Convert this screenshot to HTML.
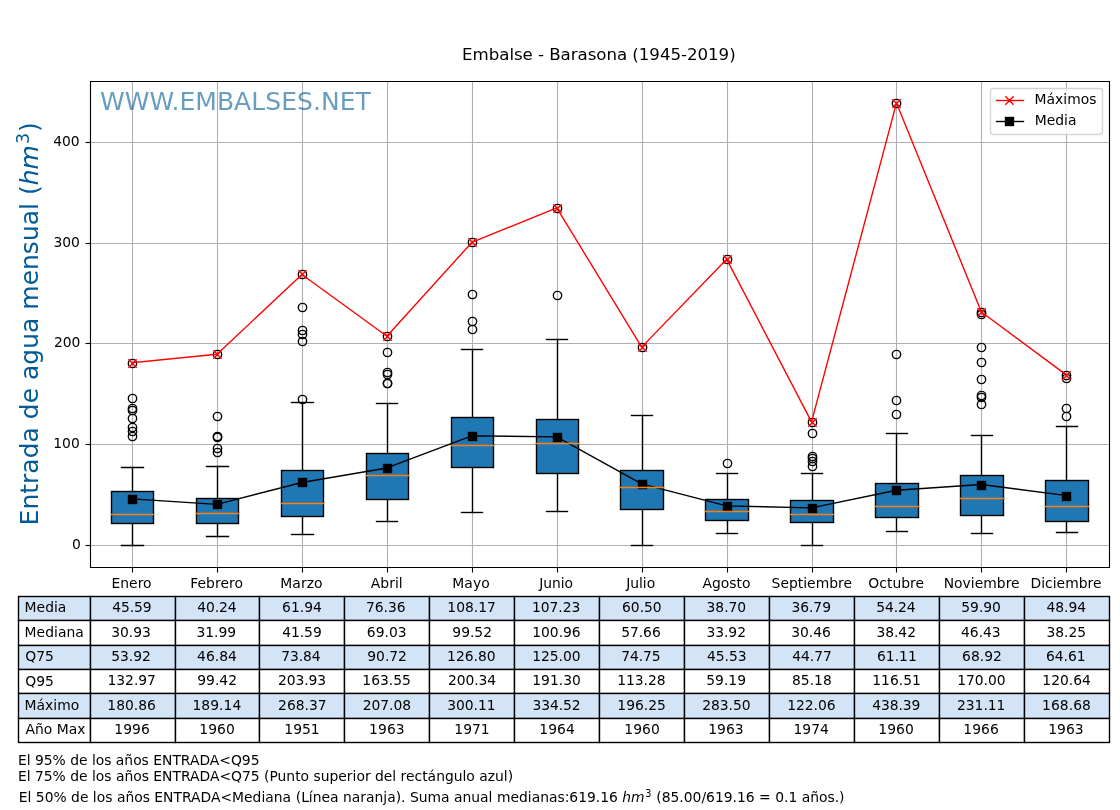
<!DOCTYPE html>
<html lang="es"><head><meta charset="utf-8"><title>Embalse - Barasona (1945-2019)</title>
<style>html,body{margin:0;padding:0;background:#fff}body{width:1120px;height:810px;overflow:hidden}svg text{white-space:pre;text-rendering:auto}</style></head>
<body>
<svg width="1120" height="810" viewBox="0 0 1120 810" style="display:block">
<rect x="0" y="0" width="1120" height="810" fill="#ffffff"/>
<g stroke="#000" stroke-width="1.39" stroke-linejoin="miter">
<rect x="18.5" y="596.5" width="72" height="24" fill="#d4e4f7"/>
<rect x="90.5" y="596.5" width="85" height="24" fill="#d4e4f7"/>
<rect x="175.5" y="596.5" width="84" height="24" fill="#d4e4f7"/>
<rect x="259.5" y="596.5" width="85" height="24" fill="#d4e4f7"/>
<rect x="344.5" y="596.5" width="85" height="24" fill="#d4e4f7"/>
<rect x="429.5" y="596.5" width="85" height="24" fill="#d4e4f7"/>
<rect x="514.5" y="596.5" width="85" height="24" fill="#d4e4f7"/>
<rect x="599.5" y="596.5" width="85" height="24" fill="#d4e4f7"/>
<rect x="684.5" y="596.5" width="85" height="24" fill="#d4e4f7"/>
<rect x="769.5" y="596.5" width="85" height="24" fill="#d4e4f7"/>
<rect x="854.5" y="596.5" width="85" height="24" fill="#d4e4f7"/>
<rect x="939.5" y="596.5" width="85" height="24" fill="#d4e4f7"/>
<rect x="1024.5" y="596.5" width="85" height="24" fill="#d4e4f7"/>
<rect x="18.5" y="620.5" width="72" height="25" fill="#ffffff"/>
<rect x="90.5" y="620.5" width="85" height="25" fill="#ffffff"/>
<rect x="175.5" y="620.5" width="84" height="25" fill="#ffffff"/>
<rect x="259.5" y="620.5" width="85" height="25" fill="#ffffff"/>
<rect x="344.5" y="620.5" width="85" height="25" fill="#ffffff"/>
<rect x="429.5" y="620.5" width="85" height="25" fill="#ffffff"/>
<rect x="514.5" y="620.5" width="85" height="25" fill="#ffffff"/>
<rect x="599.5" y="620.5" width="85" height="25" fill="#ffffff"/>
<rect x="684.5" y="620.5" width="85" height="25" fill="#ffffff"/>
<rect x="769.5" y="620.5" width="85" height="25" fill="#ffffff"/>
<rect x="854.5" y="620.5" width="85" height="25" fill="#ffffff"/>
<rect x="939.5" y="620.5" width="85" height="25" fill="#ffffff"/>
<rect x="1024.5" y="620.5" width="85" height="25" fill="#ffffff"/>
<rect x="18.5" y="645.5" width="72" height="24" fill="#d4e4f7"/>
<rect x="90.5" y="645.5" width="85" height="24" fill="#d4e4f7"/>
<rect x="175.5" y="645.5" width="84" height="24" fill="#d4e4f7"/>
<rect x="259.5" y="645.5" width="85" height="24" fill="#d4e4f7"/>
<rect x="344.5" y="645.5" width="85" height="24" fill="#d4e4f7"/>
<rect x="429.5" y="645.5" width="85" height="24" fill="#d4e4f7"/>
<rect x="514.5" y="645.5" width="85" height="24" fill="#d4e4f7"/>
<rect x="599.5" y="645.5" width="85" height="24" fill="#d4e4f7"/>
<rect x="684.5" y="645.5" width="85" height="24" fill="#d4e4f7"/>
<rect x="769.5" y="645.5" width="85" height="24" fill="#d4e4f7"/>
<rect x="854.5" y="645.5" width="85" height="24" fill="#d4e4f7"/>
<rect x="939.5" y="645.5" width="85" height="24" fill="#d4e4f7"/>
<rect x="1024.5" y="645.5" width="85" height="24" fill="#d4e4f7"/>
<rect x="18.5" y="669.5" width="72" height="24" fill="#ffffff"/>
<rect x="90.5" y="669.5" width="85" height="24" fill="#ffffff"/>
<rect x="175.5" y="669.5" width="84" height="24" fill="#ffffff"/>
<rect x="259.5" y="669.5" width="85" height="24" fill="#ffffff"/>
<rect x="344.5" y="669.5" width="85" height="24" fill="#ffffff"/>
<rect x="429.5" y="669.5" width="85" height="24" fill="#ffffff"/>
<rect x="514.5" y="669.5" width="85" height="24" fill="#ffffff"/>
<rect x="599.5" y="669.5" width="85" height="24" fill="#ffffff"/>
<rect x="684.5" y="669.5" width="85" height="24" fill="#ffffff"/>
<rect x="769.5" y="669.5" width="85" height="24" fill="#ffffff"/>
<rect x="854.5" y="669.5" width="85" height="24" fill="#ffffff"/>
<rect x="939.5" y="669.5" width="85" height="24" fill="#ffffff"/>
<rect x="1024.5" y="669.5" width="85" height="24" fill="#ffffff"/>
<rect x="18.5" y="693.5" width="72" height="25" fill="#d4e4f7"/>
<rect x="90.5" y="693.5" width="85" height="25" fill="#d4e4f7"/>
<rect x="175.5" y="693.5" width="84" height="25" fill="#d4e4f7"/>
<rect x="259.5" y="693.5" width="85" height="25" fill="#d4e4f7"/>
<rect x="344.5" y="693.5" width="85" height="25" fill="#d4e4f7"/>
<rect x="429.5" y="693.5" width="85" height="25" fill="#d4e4f7"/>
<rect x="514.5" y="693.5" width="85" height="25" fill="#d4e4f7"/>
<rect x="599.5" y="693.5" width="85" height="25" fill="#d4e4f7"/>
<rect x="684.5" y="693.5" width="85" height="25" fill="#d4e4f7"/>
<rect x="769.5" y="693.5" width="85" height="25" fill="#d4e4f7"/>
<rect x="854.5" y="693.5" width="85" height="25" fill="#d4e4f7"/>
<rect x="939.5" y="693.5" width="85" height="25" fill="#d4e4f7"/>
<rect x="1024.5" y="693.5" width="85" height="25" fill="#d4e4f7"/>
<rect x="18.5" y="718.5" width="72" height="24" fill="#ffffff"/>
<rect x="90.5" y="718.5" width="85" height="24" fill="#ffffff"/>
<rect x="175.5" y="718.5" width="84" height="24" fill="#ffffff"/>
<rect x="259.5" y="718.5" width="85" height="24" fill="#ffffff"/>
<rect x="344.5" y="718.5" width="85" height="24" fill="#ffffff"/>
<rect x="429.5" y="718.5" width="85" height="24" fill="#ffffff"/>
<rect x="514.5" y="718.5" width="85" height="24" fill="#ffffff"/>
<rect x="599.5" y="718.5" width="85" height="24" fill="#ffffff"/>
<rect x="684.5" y="718.5" width="85" height="24" fill="#ffffff"/>
<rect x="769.5" y="718.5" width="85" height="24" fill="#ffffff"/>
<rect x="854.5" y="718.5" width="85" height="24" fill="#ffffff"/>
<rect x="939.5" y="718.5" width="85" height="24" fill="#ffffff"/>
<rect x="1024.5" y="718.5" width="85" height="24" fill="#ffffff"/>
</g>
<clipPath id="axclip"><rect x="89.6" y="81" width="1019.2" height="486"/></clipPath>
<g stroke="#b0b0b0" stroke-width="1.11" fill="none">
<line x1="132.5" y1="81" x2="132.5" y2="567"/>
<line x1="217.5" y1="81" x2="217.5" y2="567"/>
<line x1="302.5" y1="81" x2="302.5" y2="567"/>
<line x1="387.5" y1="81" x2="387.5" y2="567"/>
<line x1="472.5" y1="81" x2="472.5" y2="567"/>
<line x1="557.5" y1="81" x2="557.5" y2="567"/>
<line x1="642.5" y1="81" x2="642.5" y2="567"/>
<line x1="727.5" y1="81" x2="727.5" y2="567"/>
<line x1="812.5" y1="81" x2="812.5" y2="567"/>
<line x1="896.5" y1="81" x2="896.5" y2="567"/>
<line x1="981.5" y1="81" x2="981.5" y2="567"/>
<line x1="1066.5" y1="81" x2="1066.5" y2="567"/>
<line x1="89.6" y1="545.5" x2="1108.8" y2="545.5"/>
<line x1="89.6" y1="444.5" x2="1108.8" y2="444.5"/>
<line x1="89.6" y1="343.5" x2="1108.8" y2="343.5"/>
<line x1="89.6" y1="243.5" x2="1108.8" y2="243.5"/>
<line x1="89.6" y1="142.5" x2="1108.8" y2="142.5"/>
</g>
<g stroke="#000" stroke-width="1.11" fill="none">
<line x1="132.5" y1="567.5" x2="132.5" y2="572.5"/>
<line x1="217.5" y1="567.5" x2="217.5" y2="572.5"/>
<line x1="302.5" y1="567.5" x2="302.5" y2="572.5"/>
<line x1="387.5" y1="567.5" x2="387.5" y2="572.5"/>
<line x1="472.5" y1="567.5" x2="472.5" y2="572.5"/>
<line x1="557.5" y1="567.5" x2="557.5" y2="572.5"/>
<line x1="642.5" y1="567.5" x2="642.5" y2="572.5"/>
<line x1="727.5" y1="567.5" x2="727.5" y2="572.5"/>
<line x1="812.5" y1="567.5" x2="812.5" y2="572.5"/>
<line x1="896.5" y1="567.5" x2="896.5" y2="572.5"/>
<line x1="981.5" y1="567.5" x2="981.5" y2="572.5"/>
<line x1="1066.5" y1="567.5" x2="1066.5" y2="572.5"/>
<line x1="85.5" y1="545.5" x2="90.5" y2="545.5"/>
<line x1="85.5" y1="444.5" x2="90.5" y2="444.5"/>
<line x1="85.5" y1="343.5" x2="90.5" y2="343.5"/>
<line x1="85.5" y1="243.5" x2="90.5" y2="243.5"/>
<line x1="85.5" y1="142.5" x2="90.5" y2="142.5"/>
</g>
<g clip-path="url(#axclip)">
<g stroke="#000" stroke-width="1.39" fill="#1f77b4" stroke-linejoin="miter">
<rect x="111.5" y="491.5" width="42" height="32"/>
<rect x="196.5" y="498.5" width="42" height="25"/>
<rect x="281.5" y="470.5" width="42" height="46"/>
<rect x="366.5" y="453.5" width="42" height="46"/>
<rect x="451.5" y="417.5" width="42" height="50"/>
<rect x="536.5" y="419.5" width="42" height="54"/>
<rect x="620.5" y="470.5" width="43" height="39"/>
<rect x="705.5" y="499.5" width="43" height="21"/>
<rect x="790.5" y="500.5" width="43" height="22"/>
<rect x="875.5" y="483.5" width="43" height="34"/>
<rect x="960.5" y="475.5" width="43" height="40"/>
<rect x="1045.5" y="480.5" width="43" height="41"/>
</g>
<g stroke="#000" stroke-width="1.39" fill="none" stroke-linecap="square">
<line x1="132.5" y1="523.5" x2="132.5" y2="545.5"/>
<line x1="132.5" y1="491.5" x2="132.5" y2="467.5"/>
<line x1="121.5" y1="545.5" x2="143.5" y2="545.5"/>
<line x1="121.5" y1="467.5" x2="143.5" y2="467.5"/>
<line x1="217.5" y1="523.5" x2="217.5" y2="536.5"/>
<line x1="217.5" y1="498.5" x2="217.5" y2="466.5"/>
<line x1="206.5" y1="536.5" x2="228.5" y2="536.5"/>
<line x1="206.5" y1="466.5" x2="228.5" y2="466.5"/>
<line x1="302.5" y1="516.5" x2="302.5" y2="534.5"/>
<line x1="302.5" y1="470.5" x2="302.5" y2="402.5"/>
<line x1="291.5" y1="534.5" x2="313.5" y2="534.5"/>
<line x1="291.5" y1="402.5" x2="313.5" y2="402.5"/>
<line x1="387.5" y1="499.5" x2="387.5" y2="521.5"/>
<line x1="387.5" y1="453.5" x2="387.5" y2="403.5"/>
<line x1="376.5" y1="521.5" x2="397.5" y2="521.5"/>
<line x1="376.5" y1="403.5" x2="397.5" y2="403.5"/>
<line x1="472.5" y1="467.5" x2="472.5" y2="512.5"/>
<line x1="472.5" y1="417.5" x2="472.5" y2="349.5"/>
<line x1="461.5" y1="512.5" x2="482.5" y2="512.5"/>
<line x1="461.5" y1="349.5" x2="482.5" y2="349.5"/>
<line x1="557.5" y1="473.5" x2="557.5" y2="511.5"/>
<line x1="557.5" y1="419.5" x2="557.5" y2="339.5"/>
<line x1="546.5" y1="511.5" x2="567.5" y2="511.5"/>
<line x1="546.5" y1="339.5" x2="567.5" y2="339.5"/>
<line x1="642.5" y1="509.5" x2="642.5" y2="545.5"/>
<line x1="642.5" y1="470.5" x2="642.5" y2="415.5"/>
<line x1="631.5" y1="545.5" x2="652.5" y2="545.5"/>
<line x1="631.5" y1="415.5" x2="652.5" y2="415.5"/>
<line x1="727.5" y1="520.5" x2="727.5" y2="533.5"/>
<line x1="727.5" y1="499.5" x2="727.5" y2="473.5"/>
<line x1="716.5" y1="533.5" x2="737.5" y2="533.5"/>
<line x1="716.5" y1="473.5" x2="737.5" y2="473.5"/>
<line x1="812.5" y1="522.5" x2="812.5" y2="545.5"/>
<line x1="812.5" y1="500.5" x2="812.5" y2="473.5"/>
<line x1="801.5" y1="545.5" x2="822.5" y2="545.5"/>
<line x1="801.5" y1="473.5" x2="822.5" y2="473.5"/>
<line x1="896.5" y1="517.5" x2="896.5" y2="531.5"/>
<line x1="896.5" y1="483.5" x2="896.5" y2="433.5"/>
<line x1="886.5" y1="531.5" x2="907.5" y2="531.5"/>
<line x1="886.5" y1="433.5" x2="907.5" y2="433.5"/>
<line x1="981.5" y1="515.5" x2="981.5" y2="533.5"/>
<line x1="981.5" y1="475.5" x2="981.5" y2="435.5"/>
<line x1="971.5" y1="533.5" x2="992.5" y2="533.5"/>
<line x1="971.5" y1="435.5" x2="992.5" y2="435.5"/>
<line x1="1066.5" y1="521.5" x2="1066.5" y2="532.5"/>
<line x1="1066.5" y1="480.5" x2="1066.5" y2="426.5"/>
<line x1="1056.5" y1="532.5" x2="1077.5" y2="532.5"/>
<line x1="1056.5" y1="426.5" x2="1077.5" y2="426.5"/>
</g>
<g stroke="#000" stroke-width="1.39" fill="none">
<circle cx="132.5" cy="436.5" r="4.17"/>
<circle cx="132.5" cy="431.5" r="4.17"/>
<circle cx="132.5" cy="427.5" r="4.17"/>
<circle cx="132.5" cy="418.5" r="4.17"/>
<circle cx="132.5" cy="410.5" r="4.17"/>
<circle cx="132.5" cy="408.5" r="4.17"/>
<circle cx="132.5" cy="398.5" r="4.17"/>
<circle cx="132.5" cy="363.5" r="4.17"/>
<circle cx="217.5" cy="452.5" r="4.17"/>
<circle cx="217.5" cy="448.5" r="4.17"/>
<circle cx="217.5" cy="437.5" r="4.17"/>
<circle cx="217.5" cy="436.5" r="4.17"/>
<circle cx="217.5" cy="416.5" r="4.17"/>
<circle cx="217.5" cy="354.5" r="4.17"/>
<circle cx="302.5" cy="399.5" r="4.17"/>
<circle cx="302.5" cy="341.5" r="4.17"/>
<circle cx="302.5" cy="334.5" r="4.17"/>
<circle cx="302.5" cy="330.5" r="4.17"/>
<circle cx="302.5" cy="307.5" r="4.17"/>
<circle cx="302.5" cy="274.5" r="4.17"/>
<circle cx="387.5" cy="383.5" r="4.17"/>
<circle cx="387.5" cy="383.5" r="4.17"/>
<circle cx="387.5" cy="374.5" r="4.17"/>
<circle cx="387.5" cy="372.5" r="4.17"/>
<circle cx="387.5" cy="352.5" r="4.17"/>
<circle cx="387.5" cy="336.5" r="4.17"/>
<circle cx="472.5" cy="329.5" r="4.17"/>
<circle cx="472.5" cy="321.5" r="4.17"/>
<circle cx="472.5" cy="294.5" r="4.17"/>
<circle cx="472.5" cy="242.5" r="4.17"/>
<circle cx="557.5" cy="295.5" r="4.17"/>
<circle cx="557.5" cy="208.5" r="4.17"/>
<circle cx="642.5" cy="347.5" r="4.17"/>
<circle cx="727.5" cy="463.5" r="4.17"/>
<circle cx="727.5" cy="259.5" r="4.17"/>
<circle cx="812.5" cy="466.5" r="4.17"/>
<circle cx="812.5" cy="461.5" r="4.17"/>
<circle cx="812.5" cy="458.5" r="4.17"/>
<circle cx="812.5" cy="456.5" r="4.17"/>
<circle cx="812.5" cy="433.5" r="4.17"/>
<circle cx="812.5" cy="422.5" r="4.17"/>
<circle cx="896.5" cy="414.5" r="4.17"/>
<circle cx="896.5" cy="400.5" r="4.17"/>
<circle cx="896.5" cy="354.5" r="4.17"/>
<circle cx="896.5" cy="103.5" r="4.17"/>
<circle cx="981.5" cy="404.5" r="4.17"/>
<circle cx="981.5" cy="397.5" r="4.17"/>
<circle cx="981.5" cy="395.5" r="4.17"/>
<circle cx="981.5" cy="379.5" r="4.17"/>
<circle cx="981.5" cy="362.5" r="4.17"/>
<circle cx="981.5" cy="347.5" r="4.17"/>
<circle cx="981.5" cy="314.5" r="4.17"/>
<circle cx="981.5" cy="312.5" r="4.17"/>
<circle cx="1066.5" cy="416.5" r="4.17"/>
<circle cx="1066.5" cy="408.5" r="4.17"/>
<circle cx="1066.5" cy="378.5" r="4.17"/>
<circle cx="1066.5" cy="375.5" r="4.17"/>
</g>
<polyline points="132.07,362.63 217,354.29 301.93,274.44 386.87,336.21 471.8,242.45 556.73,207.77 641.67,347.12 726.6,259.19 811.53,421.89 896.47,103.09 981.4,311.99 1066.33,374.91" fill="none" stroke="#ff0000" stroke-width="1.39" stroke-linejoin="round" stroke-linecap="square"/>
<g stroke="#ff0000" stroke-width="1.39" fill="none" stroke-linecap="butt">
<path d="M128.33 359.33L136.67 367.67M128.33 367.67L136.67 359.33"/>
<path d="M213.33 350.33L221.67 358.67M213.33 358.67L221.67 350.33"/>
<path d="M298.33 270.33L306.67 278.67M298.33 278.67L306.67 270.33"/>
<path d="M383.33 332.33L391.67 340.67M383.33 340.67L391.67 332.33"/>
<path d="M468.33 238.33L476.67 246.67M468.33 246.67L476.67 238.33"/>
<path d="M553.33 204.33L561.67 212.67M553.33 212.67L561.67 204.33"/>
<path d="M638.33 343.33L646.67 351.67M638.33 351.67L646.67 343.33"/>
<path d="M723.33 255.33L731.67 263.67M723.33 263.67L731.67 255.33"/>
<path d="M808.33 418.33L816.67 426.67M808.33 426.67L816.67 418.33"/>
<path d="M892.33 99.33L900.67 107.67M892.33 107.67L900.67 99.33"/>
<path d="M977.33 308.33L985.67 316.67M977.33 316.67L985.67 308.33"/>
<path d="M1062.33 371.33L1070.67 379.67M1062.33 379.67L1070.67 371.33"/>
</g>
<polyline points="132.07,498.96 217,504.35 301.93,482.48 386.87,467.95 471.8,435.89 556.73,436.84 641.67,483.94 726.6,505.91 811.53,507.83 896.47,490.24 981.4,484.54 1066.33,495.59" fill="none" stroke="#000" stroke-width="1.39" stroke-linejoin="round" stroke-linecap="square"/>
<g stroke="#000" stroke-width="1.39" fill="#000" stroke-linejoin="miter">
<rect x="128.5" y="495.5" width="8" height="8"/>
<rect x="213.5" y="500.5" width="8" height="8"/>
<rect x="298.5" y="478.5" width="8" height="8"/>
<rect x="383.5" y="464.5" width="8" height="8"/>
<rect x="468.5" y="432.5" width="8" height="8"/>
<rect x="553.5" y="433.5" width="8" height="8"/>
<rect x="638.5" y="480.5" width="8" height="8"/>
<rect x="723.5" y="502.5" width="8" height="8"/>
<rect x="808.5" y="504.5" width="8" height="8"/>
<rect x="892.5" y="486.5" width="8" height="8"/>
<rect x="977.5" y="481.5" width="8" height="8"/>
<rect x="1062.5" y="492.5" width="8" height="8"/>
</g>
<g stroke="#ff7f0e" stroke-width="1.39" fill="none" stroke-linecap="square">
<line x1="111.5" y1="514.5" x2="153.5" y2="514.5"/>
<line x1="196.5" y1="513.5" x2="238.5" y2="513.5"/>
<line x1="281.5" y1="503.5" x2="323.5" y2="503.5"/>
<line x1="366.5" y1="475.5" x2="408.5" y2="475.5"/>
<line x1="451.5" y1="445.5" x2="493.5" y2="445.5"/>
<line x1="536.5" y1="443.5" x2="578.5" y2="443.5"/>
<line x1="620.5" y1="487.5" x2="663.5" y2="487.5"/>
<line x1="705.5" y1="511.5" x2="748.5" y2="511.5"/>
<line x1="790.5" y1="514.5" x2="833.5" y2="514.5"/>
<line x1="875.5" y1="506.5" x2="918.5" y2="506.5"/>
<line x1="960.5" y1="498.5" x2="1003.5" y2="498.5"/>
<line x1="1045.5" y1="506.5" x2="1088.5" y2="506.5"/>
</g>
</g>
<g stroke="#000" stroke-width="1.11" fill="none" stroke-linecap="square">
<line x1="90.5" y1="81.5" x2="90.5" y2="567.5"/>
<line x1="1109.5" y1="81.5" x2="1109.5" y2="567.5"/>
<line x1="90.5" y1="567.5" x2="1109.5" y2="567.5"/>
<line x1="90.5" y1="81.5" x2="1109.5" y2="81.5"/>
</g>
<rect x="990.5" y="88.5" width="112" height="46" rx="2.78" ry="2.78" fill="#ffffff" fill-opacity="0.8" stroke="#cccccc" stroke-opacity="0.8" stroke-width="1.39"/>
<line x1="996.5" y1="100.5" x2="1023.5" y2="100.5" stroke="#ff0000" stroke-width="1.39" stroke-linecap="square"/>
<path d="M1005.33 96.33L1013.67 104.67M1005.33 104.67L1013.67 96.33" stroke="#ff0000" stroke-width="1.39" fill="none"/>
<line x1="996.5" y1="121.5" x2="1023.5" y2="121.5" stroke="#000" stroke-width="1.39" stroke-linecap="square"/>
<rect x="1005.5" y="117.5" width="8" height="8" fill="#000" stroke="#000" stroke-width="1.39"/>
<g style="font-family:'DejaVu Sans','Liberation Sans',sans-serif" fill="#000">
<text x="24.57" y="612" font-size="13.89" textLength="41.8">Media</text>
<text x="131.9" y="612" font-size="13.89" text-anchor="middle" textLength="39.4">45.59</text>
<text x="216.87" y="612" font-size="13.89" text-anchor="middle" textLength="39.4">40.24</text>
<text x="301.99" y="612" font-size="13.89" text-anchor="middle" textLength="39.87">61.94</text>
<text x="385.79" y="612" font-size="13.89" text-anchor="middle" textLength="39.56">76.36</text>
<text x="471.61" y="612" font-size="13.89" text-anchor="middle" textLength="48.6">108.17</text>
<text x="556.19" y="612" font-size="13.89" text-anchor="middle" textLength="48.3">107.23</text>
<text x="641.86" y="612" font-size="13.89" text-anchor="middle" textLength="39.56">60.50</text>
<text x="726.37" y="612" font-size="13.89" text-anchor="middle" textLength="39.56">38.70</text>
<text x="811.19" y="612" font-size="13.89" text-anchor="middle" textLength="39.56">36.79</text>
<text x="895.93" y="612" font-size="13.89" text-anchor="middle" textLength="39.4">54.24</text>
<text x="981.09" y="612" font-size="13.89" text-anchor="middle" textLength="39.71">59.90</text>
<text x="1066.24" y="612" font-size="13.89" text-anchor="middle" textLength="39.71">48.94</text>
<text x="24.61" y="637" font-size="13.89" textLength="59.17">Mediana</text>
<text x="130.98" y="637" font-size="13.89" text-anchor="middle" textLength="39.56">30.93</text>
<text x="216.24" y="637" font-size="13.89" text-anchor="middle" textLength="39.71">31.99</text>
<text x="301.94" y="637" font-size="13.89" text-anchor="middle" textLength="39.56">41.59</text>
<text x="386.72" y="637" font-size="13.89" text-anchor="middle" textLength="39.71">69.03</text>
<text x="472.17" y="637" font-size="13.89" text-anchor="middle" textLength="39.71">99.52</text>
<text x="556.45" y="637" font-size="13.89" text-anchor="middle" textLength="48.45">100.96</text>
<text x="640.93" y="637" font-size="13.89" text-anchor="middle" textLength="39.56">57.66</text>
<text x="726.2" y="637" font-size="13.89" text-anchor="middle" textLength="39.56">33.92</text>
<text x="811.07" y="637" font-size="13.89" text-anchor="middle" textLength="39.4">30.46</text>
<text x="896.2" y="637" font-size="13.89" text-anchor="middle" textLength="39.56">38.42</text>
<text x="980.86" y="637" font-size="13.89" text-anchor="middle" textLength="39.56">46.43</text>
<text x="1066.3" y="637" font-size="13.89" text-anchor="middle" textLength="39.56">38.25</text>
<text x="25.3" y="661" font-size="13.89" textLength="28.41">Q75</text>
<text x="130.99" y="661" font-size="13.89" text-anchor="middle" textLength="39.56">53.92</text>
<text x="216.93" y="661" font-size="13.89" text-anchor="middle" textLength="39.71">46.84</text>
<text x="300.91" y="661" font-size="13.89" text-anchor="middle" textLength="39.56">73.84</text>
<text x="387.1" y="661" font-size="13.89" text-anchor="middle" textLength="39.56">90.72</text>
<text x="471.39" y="661" font-size="13.89" text-anchor="middle" textLength="48.6">126.80</text>
<text x="556.44" y="661" font-size="13.89" text-anchor="middle" textLength="48.3">125.00</text>
<text x="640.93" y="661" font-size="13.89" text-anchor="middle" textLength="39.4">74.75</text>
<text x="726.81" y="661" font-size="13.89" text-anchor="middle" textLength="39.4">45.53</text>
<text x="812.06" y="661" font-size="13.89" text-anchor="middle" textLength="39.4">44.77</text>
<text x="896.86" y="661" font-size="13.89" text-anchor="middle" textLength="39.87">61.11</text>
<text x="981.98" y="661" font-size="13.89" text-anchor="middle" textLength="39.87">68.92</text>
<text x="1065.79" y="661" font-size="13.89" text-anchor="middle" textLength="39.71">64.61</text>
<text x="25.3" y="686" font-size="13.89" textLength="28.6">Q95</text>
<text x="131.7" y="685" font-size="13.89" text-anchor="middle" textLength="48.45">132.97</text>
<text x="217.14" y="685" font-size="13.89" text-anchor="middle" textLength="39.71">99.42</text>
<text x="302.03" y="685" font-size="13.89" text-anchor="middle" textLength="48.3">203.93</text>
<text x="386.58" y="685" font-size="13.89" text-anchor="middle" textLength="48.45">163.55</text>
<text x="472.12" y="685" font-size="13.89" text-anchor="middle" textLength="48.15">200.34</text>
<text x="556.53" y="685" font-size="13.89" text-anchor="middle" textLength="48.6">191.30</text>
<text x="641.38" y="685" font-size="13.89" text-anchor="middle" textLength="48.45">113.28</text>
<text x="726.1" y="685" font-size="13.89" text-anchor="middle" textLength="39.71">59.19</text>
<text x="811.86" y="685" font-size="13.89" text-anchor="middle" textLength="39.71">85.18</text>
<text x="896.57" y="685" font-size="13.89" text-anchor="middle" textLength="48.6">116.51</text>
<text x="981.41" y="685" font-size="13.89" text-anchor="middle" textLength="48.3">170.00</text>
<text x="1066.55" y="685" font-size="13.89" text-anchor="middle" textLength="48.45">120.64</text>
<text x="24.5" y="710" font-size="13.89" textLength="54.79">Máximo</text>
<text x="131.59" y="710" font-size="13.89" text-anchor="middle" textLength="48.6">180.86</text>
<text x="216.88" y="710" font-size="13.89" text-anchor="middle" textLength="48.75">189.14</text>
<text x="302.31" y="710" font-size="13.89" text-anchor="middle" textLength="48.45">268.37</text>
<text x="386.94" y="710" font-size="13.89" text-anchor="middle" textLength="48.15">207.08</text>
<text x="471.37" y="710" font-size="13.89" text-anchor="middle" textLength="48.3">300.11</text>
<text x="556.5" y="710" font-size="13.89" text-anchor="middle" textLength="48.15">334.52</text>
<text x="641.59" y="710" font-size="13.89" text-anchor="middle" textLength="48.6">196.25</text>
<text x="726.36" y="710" font-size="13.89" text-anchor="middle" textLength="48.3">283.50</text>
<text x="811.39" y="710" font-size="13.89" text-anchor="middle" textLength="48.3">122.06</text>
<text x="896.29" y="710" font-size="13.89" text-anchor="middle" textLength="48.3">438.39</text>
<text x="981.22" y="710" font-size="13.89" text-anchor="middle" textLength="48.45">231.11</text>
<text x="1066.48" y="710" font-size="13.89" text-anchor="middle" textLength="48.75">168.68</text>
<text x="25.39" y="734" font-size="13.89" textLength="59.98">Año Max</text>
<text x="132" y="734" font-size="13.89" text-anchor="middle" textLength="35.52">1996</text>
<text x="217" y="734" font-size="13.89" text-anchor="middle" textLength="35.52">1960</text>
<text x="301.98" y="734" font-size="13.89" text-anchor="middle" textLength="35.35">1951</text>
<text x="386.88" y="734" font-size="13.89" text-anchor="middle" textLength="35.52">1963</text>
<text x="472.01" y="734" font-size="13.89" text-anchor="middle" textLength="35.35">1971</text>
<text x="557.07" y="734" font-size="13.89" text-anchor="middle" textLength="35.52">1964</text>
<text x="642.01" y="734" font-size="13.89" text-anchor="middle" textLength="35.52">1960</text>
<text x="725.9" y="734" font-size="13.89" text-anchor="middle" textLength="35.52">1963</text>
<text x="811.2" y="734" font-size="13.89" text-anchor="middle" textLength="35.35">1974</text>
<text x="896" y="734" font-size="13.89" text-anchor="middle" textLength="35.52">1960</text>
<text x="981.01" y="734" font-size="13.89" text-anchor="middle" textLength="35.52">1966</text>
<text x="1065.89" y="734" font-size="13.89" text-anchor="middle" textLength="35.52">1963</text>
<text x="131.52" y="588" font-size="13.89" text-anchor="middle" textLength="40.02">Enero</text>
<text x="216.58" y="588" font-size="13.89" text-anchor="middle" textLength="52.66">Febrero</text>
<text x="301.46" y="588" font-size="13.89" text-anchor="middle" textLength="42.32">Marzo</text>
<text x="386.76" y="588" font-size="13.89" text-anchor="middle" textLength="31.91">Abril</text>
<text x="471" y="588" font-size="13.89" text-anchor="middle" textLength="37.46">Mayo</text>
<text x="556.08" y="588" font-size="13.89" text-anchor="middle" textLength="33.84">Junio</text>
<text x="640.66" y="588" font-size="13.89" text-anchor="middle" textLength="28.98">Julio</text>
<text x="726.43" y="588" font-size="13.89" text-anchor="middle" textLength="48.01">Agosto</text>
<text x="811.77" y="588" font-size="13.89" text-anchor="middle" textLength="80.44">Septiembre</text>
<text x="896.16" y="588" font-size="13.89" text-anchor="middle" textLength="55.7">Octubre</text>
<text x="981.66" y="588" font-size="13.89" text-anchor="middle" textLength="75.95">Noviembre</text>
<text x="1065.98" y="588" font-size="13.89" text-anchor="middle" textLength="71.07">Diciembre</text>
<text x="80.82" y="549" font-size="13.89" text-anchor="end">0</text>
<text x="79.76" y="448" font-size="13.89" text-anchor="end" textLength="26.46">100</text>
<text x="80.36" y="347" font-size="13.89" text-anchor="end" textLength="26.27">200</text>
<text x="79.75" y="247" font-size="13.89" text-anchor="end" textLength="26.27">300</text>
<text x="79.6" y="146" font-size="13.89" text-anchor="end" textLength="26.27">400</text>
<text transform="translate(39.16 525.38) rotate(-90)" fill="#005b96" xml:space="preserve"><tspan x="0" y="-1.05" font-size="25">Entrada </tspan><tspan x="106.18" y="-1.05" font-size="25">de </tspan><tspan x="145.37" y="-1.05" font-size="25">agua </tspan><tspan x="215.67" y="-1.05" font-size="25">mensual </tspan><tspan x="330.33" y="-1.05" font-size="25">(</tspan><tspan x="340.09" y="-1.05" font-size="25" font-style="oblique">hm</tspan><tspan x="381.45" y="-10.62" font-size="17.5">3</tspan><tspan x="393.27" y="-1.05" font-size="25">)</tspan></text>
<text x="99.94" y="110" font-size="25" fill="#005b96" fill-opacity="0.6" textLength="270.85">WWW.EMBALSES.NET</text>
<text x="598.85" y="60" font-size="16.67" text-anchor="middle" textLength="273.59">Embalse - Barasona (1945-2019)</text>
<text x="1034.49" y="104" font-size="13.89" textLength="62.04">Máximos</text>
<text x="1034.69" y="125" font-size="13.89" textLength="41.8">Media</text>
<text x="17.92" y="765" font-size="13.89" textLength="241.59">El 95% de los años ENTRADA&lt;Q95</text>
<text x="17.92" y="781" font-size="13.89" textLength="495.19">El 75% de los años ENTRADA&lt;Q75 (Punto superior del rectángulo azul)</text>
<text transform="translate(18.42 803.55)" xml:space="preserve"><tspan x="0.35" y="-1.36" font-size="13.89">El </tspan><tspan x="17.4" y="-1.36" font-size="13.89">50% </tspan><tspan x="52.68" y="-1.36" font-size="13.89">de </tspan><tspan x="74.46" y="-1.36" font-size="13.89">los </tspan><tspan x="98.47" y="-1.36" font-size="13.89">años </tspan><tspan x="135.93" y="-1.36" font-size="13.89">ENTRADA&lt;Mediana </tspan><tspan x="277.31" y="-1.36" font-size="13.89">(Línea </tspan><tspan x="324.59" y="-1.36" font-size="13.89">naranja). </tspan><tspan x="391.55" y="-1.36" font-size="13.89">Suma </tspan><tspan x="435.62" y="-1.36" font-size="13.89">anual </tspan><tspan x="478.53" y="-1.36" font-size="13.89">medianas:619.16 </tspan><tspan x="603.88" y="-1.36" font-size="13.89" font-style="oblique">hm</tspan><tspan x="626.85" y="-6.67" font-size="9.72">3</tspan><tspan x="633.42" y="-1.36" font-size="13.89"> </tspan><tspan x="637.83" y="-1.36" font-size="13.89">(85.00/619.16 </tspan><tspan x="740.71" y="-1.36" font-size="13.89">= </tspan><tspan x="756.76" y="-1.36" font-size="13.89">0.1 </tspan><tspan x="783.26" y="-1.36" font-size="13.89">años.)</tspan></text>
</g>
</svg>
</body></html>
